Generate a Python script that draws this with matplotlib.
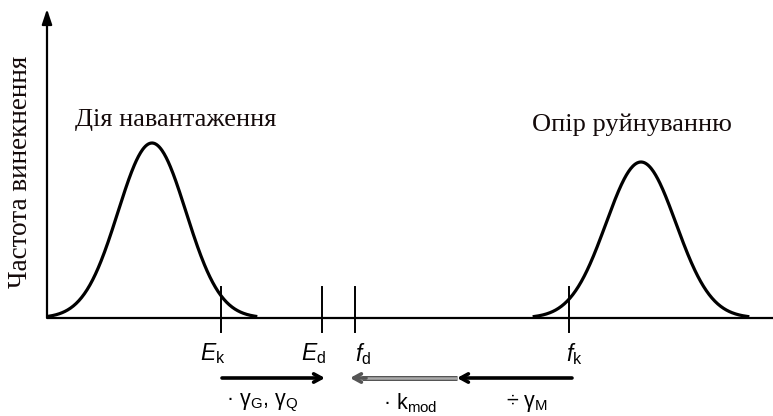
import numpy as np
import matplotlib.pyplot as plt

plt.rcParams["mathtext.fontset"] = "custom"
plt.rcParams["mathtext.rm"] = "Liberation Sans"
plt.rcParams["mathtext.it"] = "Liberation Sans:italic"
plt.rcParams["mathtext.bf"] = "Liberation Sans:bold"
plt.rcParams["font.family"] = "Liberation Sans"

# distribution curves: (mean, sigma, peak height)
load_mu, load_sigma, load_peak = 152, 34, 175
res_mu, res_sigma, res_peak = 641, 35, 156

# characteristic / design values on the x axis
mark_labels = [r"$\mathit{E}_{\mathrm{k}}$", r"$\mathit{E}_{\mathrm{d}}$",
               r"$\mathit{f}_{\mathrm{d}}$", r"$\mathit{f}_{\mathrm{k}}$"]
mark_x = [221, 322, 355, 569]
label_x = [213, 314, 363, 574]

factor_labels = ["· γ$_{\\mathrm{G}}$, γ$_{\\mathrm{Q}}$",
                 "· k$_{\\mathrm{mod}}$",
                 "÷ γ$_{\\mathrm{M}}$"]
factor_x = [262, 410, 527]

fig = plt.figure(figsize=(7.73, 4.16), dpi=100)
ax = fig.add_axes([0, 0, 1, 1])
ax.set_xlim(0, 773)
ax.set_ylim(-98, 318)
ax.axis("off")

# axes of the diagram
ax.plot([47, 773], [0, 0], color="black", lw=1.6, solid_capstyle="butt")
ax.annotate("", xy=(47, 309), xytext=(47, 0),
            arrowprops=dict(arrowstyle="-|>,head_length=0.9,head_width=0.3",
                            color="black", lw=1.6, shrinkA=0, shrinkB=0))

# two bell curves
for mu, sig, peak in [(load_mu, load_sigma, load_peak), (res_mu, res_sigma, res_peak)]:
    x = np.linspace(mu - 3.05 * sig, mu + 3.05 * sig, 300)
    y = peak * np.exp(-0.5 * ((x - mu) / sig) ** 2)
    ax.plot(x, y, color="black", lw=2.3)

# tick marks and labels
for mx, lx, lab in zip(mark_x, label_x, mark_labels):
    ax.plot([mx, mx], [-14, 31], color="black", lw=1.4)
    ax.text(lx, -36, lab, ha="center", va="center", fontsize=16.5)

# arrows between values
arr = dict(arrowstyle="->,head_length=0.55,head_width=0.3", color="black", lw=2.6,
           shrinkA=0, shrinkB=0)
ax.annotate("", xy=(325, -60), xytext=(222, -60), arrowprops=arr)
ax.annotate("", xy=(457, -60), xytext=(572, -60), arrowprops=arr)
ax.plot([362, 457], [-60, -60], color="#555555", lw=3.6, solid_capstyle="butt")
ax.plot([362, 457], [-60, -60], color="#aaaaaa", lw=1.8, solid_capstyle="butt")
ax.annotate("", xy=(350, -60), xytext=(366, -60),
            arrowprops=dict(arrowstyle="->,head_length=0.55,head_width=0.3",
                            color="#555555", lw=2.6, shrinkA=0, shrinkB=0))

for fx, lab in zip(factor_x, factor_labels):
    ax.text(fx, -85, lab, ha="center", va="center", fontsize=15.5)

# captions
serif = "Liberation Serif"
ax.text(176, 198, "Дія навантаження", ha="center", va="center",
        fontsize=19, family=serif, color="#140a0a")
ax.text(632, 193, "Опір руйнуванню", ha="center", va="center",
        fontsize=19, family=serif, color="#140a0a")
ax.text(21, 146, "Частота винекнення", ha="center", va="center", rotation=90,
        fontsize=19.5, family=serif, color="#140a0a")

fig.savefig("out.png", dpi=100)
